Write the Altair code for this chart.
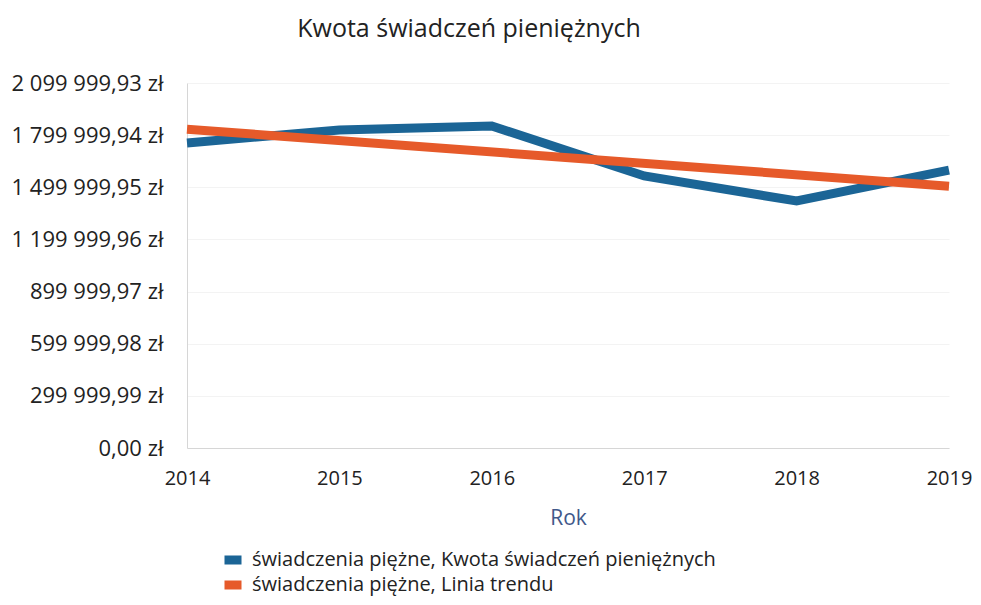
import altair as alt
import pandas as pd

years = [2014, 2015, 2016, 2017, 2018, 2019]
kwota = [1755000, 1830000, 1853000, 1565000, 1421000, 1599000]
series_labels = [
    "świadczenia piężne, Kwota świadczeń pieniężnych",
    "świadczenia piężne, Linia trendu",
]
series_colors = ["#1B6596", "#E65A2A"]
y_tick_values = [0, 299999.99, 599999.98, 899999.97, 1199999.96, 1499999.95, 1799999.94, 2099999.93]
y_tick_labels = ["0,00 zł", "299 999,99 zł", "599 999,98 zł", "899 999,97 zł",
                 "1 199 999,96 zł", "1 499 999,95 zł", "1 799 999,94 zł", "2 099 999,93 zł"]

df = pd.DataFrame({"rok": years, "kwota": kwota})
FONT = "Open Sans"
FS = 21

label_array = "[" + ",".join("'" + s + "'" for s in y_tick_labels) + "]"

color_scale = alt.Scale(domain=series_labels, range=series_colors)

x_enc = alt.X("rok:Q",
              scale=alt.Scale(domain=[2014, 2019], nice=False, zero=False),
              axis=alt.Axis(values=years, format="d", title="Rok", grid=False,
                            ticks=False, labelFontSize=20, labelFont=FONT,
                            labelColor="#222222", labelPadding=20,
                            titleFont=FONT, titleFontSize=FS, titleFontWeight="normal",
                            titleColor="#41588A", titlePadding=19,
                            domainColor="#d6d6d6", labelFlush=False))
y_enc = alt.Y("kwota:Q",
              scale=alt.Scale(domain=[0, 2099999.93], nice=False),
              axis=alt.Axis(values=y_tick_values, title=None, ticks=False,
                            labelExpr=label_array + "[round(datum.value / 299999.99)]",
                            labelFontSize=22, labelFont=FONT, labelColor="#222222",
                            labelPadding=24, gridColor="#f3f3f3",
                            domainColor="#d6d6d6"))

legend = alt.Legend(title=None, orient="none", legendX=33, legendY=467,
                    direction="vertical", symbolType="stroke", symbolSize=289,
                    symbolStrokeWidth=9, labelFontSize=20, labelFont=FONT,
                    labelColor="#222222", labelLimit=1000, rowPadding=5,
                    clipHeight=20, labelOffset=6)

base = alt.Chart(df)

actual = base.mark_line(strokeWidth=9).transform_calculate(
    series="'" + series_labels[0] + "'"
).encode(x=x_enc, y=y_enc,
         color=alt.Color("series:N", scale=color_scale, legend=legend))

trend = base.transform_regression("rok", "kwota", method="linear", extent=[2014, 2019]).transform_calculate(
    series="'" + series_labels[1] + "'"
).mark_line(strokeWidth=9).encode(x=x_enc, y=y_enc,
                                  color=alt.Color("series:N", scale=color_scale, legend=legend))

chart = alt.layer(actual, trend).properties(
    width=762, height=365,
    title=alt.TitleParams("Kwota świadczeń pieniężnych", font=FONT, fontSize=25,
                          fontWeight="normal", color="#222222", anchor="middle",
                          dx=-99, offset=30),
    autosize=alt.AutoSizeParams(type="none"),
    padding={"left": 179, "top": 75, "right": 24, "bottom": 149},
).configure_view(stroke=None)

chart.save("out.html", embed_options={"renderer": "svg", "actions": False})
